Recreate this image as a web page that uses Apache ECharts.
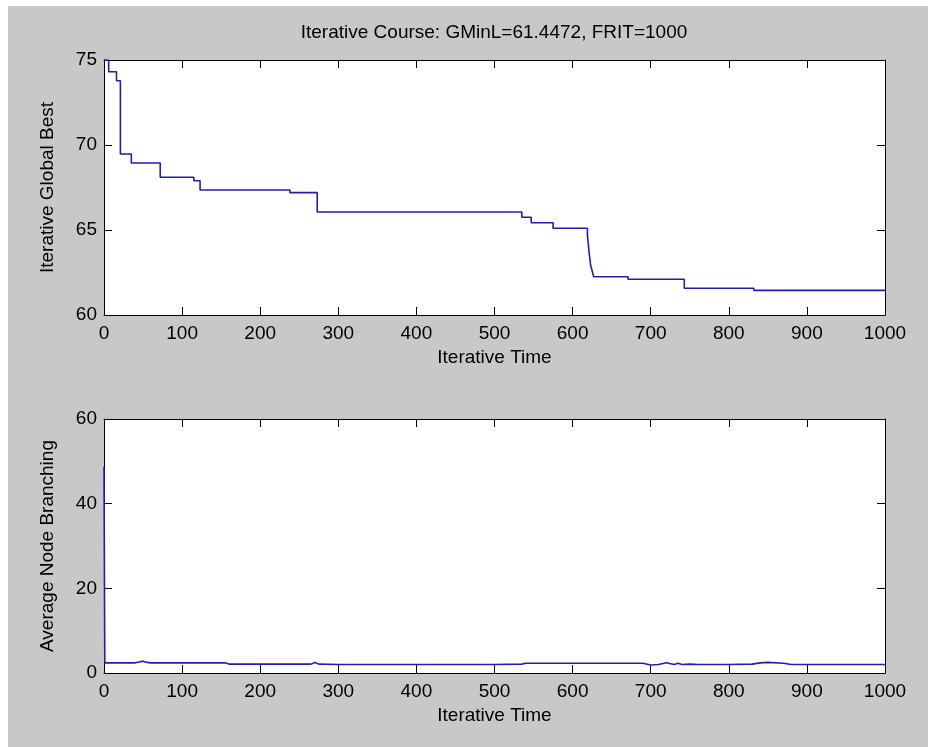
<!DOCTYPE html>
<html>
<head>
<meta charset="utf-8">
<script src="https://cdn.jsdelivr.net/npm/echarts@6/dist/echarts.min.js"></script>
<style>
html,body{margin:0;padding:0;background:#fff;}
#chart{width:928px;height:747px;}
</style>
</head>
<body>
<div id="chart"></div>
<script>
// ---- data ----
const titleText = 'Iterative Course: GMinL=61.4472, FRIT=1000';
const xName = 'Iterative Time';
const yNameTop = 'Iterative Global Best';
const yNameBottom = 'Average Node Branching';

// top plot: global best (step changes)
const bestIter = [0, 6, 16, 21, 35, 72, 115, 123, 238, 273, 535, 547, 575, 619, 621, 623, 625, 627, 671, 743, 832, 1000];
const bestVal  = [75, 74.31, 73.78, 69.47, 68.94, 68.1, 67.9, 67.35, 67.2, 66.06, 65.75, 65.43, 65.1, 64.7, 63.72, 62.94, 62.6, 62.25, 62.1, 61.57, 61.45, 61.45];

// bottom plot: average node branching
const branchIter = [0, 1, 10, 40, 45, 50, 55, 60, 100, 155, 160, 200, 265, 270, 275, 300, 400, 500, 535, 540, 600, 690, 700, 710, 720, 730, 735, 740, 750, 760, 800, 830, 840, 850, 870, 880, 900, 1000];
const branchVal  = [48.7, 2.4, 2.4, 2.4, 2.6, 2.8, 2.5, 2.4, 2.4, 2.4, 2.1, 2.1, 2.1, 2.5, 2.1, 2.0, 2.0, 2.0, 2.1, 2.3, 2.3, 2.3, 1.9, 2.0, 2.4, 2.0, 2.3, 2.0, 2.1, 2.0, 2.0, 2.1, 2.4, 2.5, 2.3, 2.0, 2.0, 2.0];

// ticks
const xMin = 0, xMax = 1000, xInterval = 100;
const yTopMin = 60, yTopMax = 75, yTopInterval = 5;
const yBotMin = 0, yBotMax = 60, yBotInterval = 20;

// ---- chart ----
const FONT = '"Liberation Sans",Arial,sans-serif';
const FS = 19;
const LINE = '#1f1fb0';
const chart = echarts.init(document.getElementById('chart'), null, {renderer: 'canvas'});

function xAx(grid, pos, showLabel, name) {
  return {
    type: 'value', gridIndex: grid, position: pos, min: xMin, max: xMax, interval: xInterval,
    axisLine: {show: true, onZero: false, lineStyle: {color: '#000', width: 1}},
    axisTick: {show: true, inside: true, length: 8, lineStyle: {color: '#000'}},
    axisLabel: {show: showLabel, color: '#000', fontSize: FS, fontFamily: FONT, margin: 9,
                formatter: v => String(v)},
    splitLine: {show: false},
    name: name || '', nameLocation: 'middle', nameGap: 33,
    nameTextStyle: {color: '#000', fontSize: FS, fontFamily: FONT}
  };
}
function yAx(grid, pos, min, max, itv, showLabel, name) {
  return {
    type: 'value', gridIndex: grid, position: pos, min: min, max: max, interval: itv,
    axisLine: {show: true, onZero: false, lineStyle: {color: '#000', width: 1}},
    axisTick: {show: true, inside: true, length: 8, lineStyle: {color: '#000'}},
    axisLabel: {show: showLabel, color: '#000', fontSize: FS, fontFamily: FONT, margin: 7,
                formatter: v => String(v)},
    splitLine: {show: false},
    name: name || '', nameLocation: 'middle', nameGap: 47,
    nameTextStyle: {color: '#000', fontSize: FS, fontFamily: FONT}
  };
}

const option = {
  backgroundColor: '#ffffff',
  animation: false,
  graphic: [
    {type: 'rect', z: -10, silent: true, shape: {x: 8, y: 6, width: 920, height: 741}, style: {fill: '#c8c8c8'}},
    {type: 'text', z: 10, style: {text: titleText, x: 494, y: 33, textAlign: 'center', textVerticalAlign: 'middle', fill: '#000', font: FS + 'px ' + FONT}}
  ],
  grid: [
    {left: 104, right: 43, top: 60, height: 255, show: true, backgroundColor: '#fff', borderWidth: 0},
    {left: 104, right: 43, top: 419, height: 254, show: true, backgroundColor: '#fff', borderWidth: 0}
  ],
  xAxis: [
    xAx(0, 'bottom', true, xName),
    xAx(0, 'top', false),
    xAx(1, 'bottom', true, xName),
    xAx(1, 'top', false)
  ],
  yAxis: [
    yAx(0, 'left', yTopMin, yTopMax, yTopInterval, true, yNameTop),
    yAx(0, 'right', yTopMin, yTopMax, yTopInterval, false),
    yAx(1, 'left', yBotMin, yBotMax, yBotInterval, true, yNameBottom),
    yAx(1, 'right', yBotMin, yBotMax, yBotInterval, false)
  ],
  series: [
    {type: 'line', xAxisIndex: 0, yAxisIndex: 0, step: 'end', showSymbol: false,
     lineStyle: {color: LINE, width: 1.6}, data: bestIter.map((x, i) => [x, bestVal[i]])},
    {type: 'line', xAxisIndex: 2, yAxisIndex: 2, showSymbol: false,
     lineStyle: {color: LINE, width: 1.6}, data: branchIter.map((x, i) => [x, branchVal[i]])}
  ]
};
chart.setOption(option);
</script>
</body>
</html>
